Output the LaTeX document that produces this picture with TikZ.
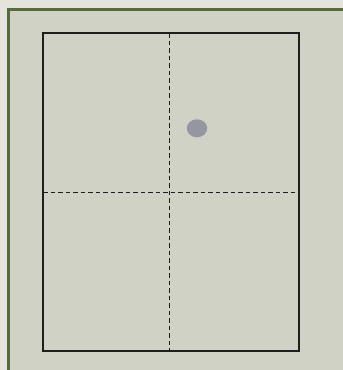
\documentclass[tikz,border=0pt]{standalone}
\usetikzlibrary{shapes.geometric}
\definecolor{outerbg}{HTML}{E4E4DC}
\definecolor{panelbg}{HTML}{D0D2C6}
\definecolor{framegreen}{HTML}{556B3A}
\definecolor{dotgray}{HTML}{9497A0}
\definecolor{lineblack}{HTML}{1E1E1E}
\tikzset{
  outline/.style={draw=lineblack, line width=1.8pt},
  guide/.style={draw=lineblack, line width=0.9pt, dash pattern=on 4.5pt off 3pt},
  edge/.style={draw=framegreen, line width=3pt}
}
\begin{document}
\begin{tikzpicture}[x=1pt,y=-1pt]
\useasboundingbox (0,0) rectangle (343,370);
\fill[outerbg] (0,0) rectangle (343,370);
\fill[panelbg] (8,9) rectangle (343,370);
\draw[edge] (8,370) -- (8,9) -- (343,9);
\draw[outline] (43,33) rectangle (299,351);
\draw[guide] (169,33) -- (169,351);
\draw[guide] (43,192) -- (299,192);
\node[ellipse, fill=dotgray, minimum width=20.5pt, minimum height=18pt, inner sep=0pt] (dot) at (197,128.3) {};
\end{tikzpicture}
\end{document}
